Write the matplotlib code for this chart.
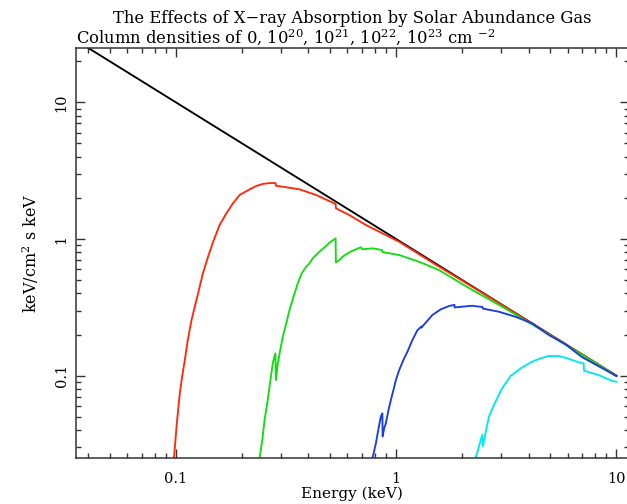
import matplotlib
matplotlib.use("Agg")
import matplotlib.pyplot as plt
from matplotlib.ticker import FixedLocator, FixedFormatter, LogLocator, NullFormatter

# ---- data ----
E_black = [0.04, 10.0]
F_black = [25.0, 0.1]

E_red = [0.0965, 0.098, 0.0993, 0.1007, 0.1024, 0.1042, 0.1068, 0.1098, 0.1133, 0.1178,
         0.1219, 0.1262, 0.1328, 0.140, 0.1475, 0.158, 0.1696, 0.1816, 0.1948, 0.2163,
         0.2318, 0.2483, 0.266, 0.2805, 0.2840, 0.2845, 0.364, 0.433, 0.524, 0.531,
         0.533, 0.6127, 0.7295, 0.867, 1.032, 1.5, 2.0, 3.0, 5.0, 7.0, 10.0]
F_red = [0.018, 0.0249, 0.032, 0.0424, 0.0561, 0.0743, 0.0984, 0.130, 0.1824, 0.2556,
         0.320, 0.401, 0.564, 0.742, 0.95, 1.266, 1.542, 1.824, 2.10, 2.31,
         2.443, 2.53, 2.565, 2.565, 2.56, 2.455, 2.31, 2.10, 1.824, 1.80,
         1.677, 1.498, 1.266, 1.10, 0.955, 0.655, 0.495, 0.332, 0.2, 0.143, 0.1]

E_green = [0.236, 0.2399, 0.2468, 0.2527, 0.260, 0.2662, 0.2757, 0.2830, 0.2845, 0.290,
           0.2977, 0.3059, 0.317, 0.328, 0.342, 0.3576, 0.3727, 0.3903, 0.404, 0.418,
           0.448, 0.4808, 0.4975, 0.531, 0.5325, 0.552, 0.571, 0.592, 0.634, 0.692,
           0.704, 0.782, 0.862, 0.868, 1.032, 1.27, 1.565, 2.215, 3.0, 5.0, 7.0, 10.0]
F_green = [0.018, 0.0249, 0.0339, 0.0474, 0.0628, 0.0831, 0.125, 0.146, 0.093, 0.122,
           0.154, 0.193, 0.2416, 0.3027, 0.378, 0.474, 0.561, 0.627, 0.664, 0.723,
           0.807, 0.889, 0.94, 1.01, 0.675, 0.700, 0.742, 0.773, 0.821, 0.87,
           0.841, 0.855, 0.831, 0.803, 0.764, 0.682, 0.593, 0.424, 0.323, 0.198, 0.142, 0.0995]

E_blue = [0.77, 0.781, 0.809, 0.832, 0.8525, 0.866, 0.868, 0.8824, 0.898, 0.923,
          0.946, 0.972, 0.997, 1.032, 1.08, 1.125, 1.185, 1.248, 1.30, 1.302, 1.46,
          1.593, 1.738, 1.838, 1.842, 2.214, 2.468, 2.474, 2.924, 3.48, 4.14,
          4.925, 5.86, 6.97, 8.29, 10.0]
F_blue = [0.02, 0.0249, 0.032, 0.0412, 0.0505, 0.053, 0.036, 0.0412, 0.0449, 0.0561,
          0.0664, 0.0786, 0.093, 0.110, 0.131, 0.150, 0.1824, 0.215, 0.229, 0.225, 0.278,
          0.306, 0.3236, 0.330, 0.316, 0.325, 0.318, 0.310, 0.294, 0.270, 0.2416,
          0.199, 0.170, 0.137, 0.1175, 0.0995]

E_cyan = [2.26, 2.278, 2.46, 2.475, 2.636, 2.776, 3.027, 3.304, 3.73, 4.14,
          4.517, 4.925, 5.466, 5.86, 6.85, 7.10, 7.12, 8.29, 9.69, 10.0]
F_cyan = [0.0215, 0.024, 0.037, 0.0305, 0.0501, 0.061, 0.0809, 0.0995, 0.115, 0.1266,
          0.134, 0.1394, 0.1394, 0.1355, 0.1245, 0.123, 0.109, 0.1012, 0.091, 0.0905]

major_ticks = [0.1, 1, 10]
major_labels = ["0.1", "1", "10"]

title1 = "The Effects of X\u2212ray Absorption by Solar Abundance Gas"
title2 = r"Column densities of 0, 10$^{20}$, 10$^{21}$, 10$^{22}$, 10$^{23}$ cm $^{-2}$"
xlabel = "Energy (keV)"
ylabel = r"keV/cm$^2$ s keV"

# ---- plot ----
plt.rcParams['font.family'] = ['DejaVu Serif']
plt.rcParams['mathtext.fontset'] = 'dejavuserif'

fig = plt.figure(figsize=(6.27, 5.04), dpi=100)
ax = fig.add_axes([0.1207, 0.0907, 0.8825, 0.8147])

lw = 1.35
ax.plot(E_black, F_black, color='black', lw=lw)
ax.plot(E_red, F_red, color='#ff2a0a', lw=lw)
ax.plot(E_green, F_green, color='#11dd11', lw=lw)
ax.plot(E_blue, F_blue, color='#1a3ce0', lw=lw)
ax.plot(E_cyan, F_cyan, color='#00e8f0', lw=lw)

ax.set_xscale('log')
ax.set_yscale('log')
ax.set_xlim(0.0351, 11.4)
ax.set_ylim(0.0249, 25.1)

for axis in (ax.xaxis, ax.yaxis):
    axis.set_major_locator(FixedLocator(major_ticks))
    axis.set_major_formatter(FixedFormatter(major_labels))
    axis.set_minor_locator(LogLocator(base=10, subs=range(2, 10), numticks=20))
    axis.set_minor_formatter(NullFormatter())

ax.tick_params(which='both', direction='in', top=True, right=True, width=1.0, color='#333333')
ax.tick_params(which='major', length=6.5, labelsize=10.5)
ax.tick_params(axis='x', which='major', pad=10)
ax.tick_params(axis='y', which='major', pad=5)
ax.tick_params(which='minor', length=3.5)
for lab in ax.get_yticklabels():
    lab.set_rotation(90)
    lab.set_va('center')
for s in ax.spines.values():
    s.set_linewidth(1.1)
    s.set_color('#333333')

ax.set_xlabel(xlabel, fontsize=11, labelpad=0)
ax.set_ylabel(ylabel, fontsize=11.5, labelpad=10)

fig.text(0.5615, 0.954, title1, ha='center', va='baseline', fontsize=11.8)
fig.text(0.1207, 0.915, title2, ha='left', va='baseline', fontsize=11.8)

fig.savefig("out.png", dpi=100)
